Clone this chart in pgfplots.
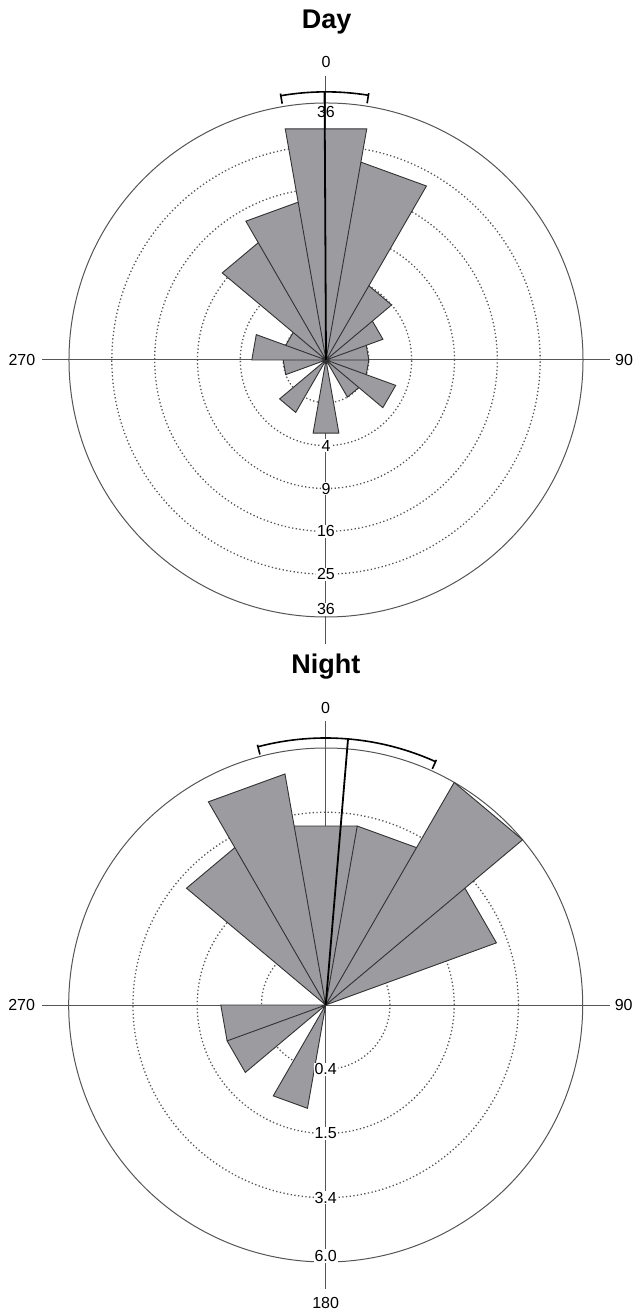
\documentclass[border=0pt]{standalone}
\usepackage{fontspec}
\setmainfont{Liberation Sans}
\usepackage{pgfplots}
\usepackage{pgfplotstable}
\pgfplotsset{compat=1.18}
\usepgfplotslibrary{polar}

\definecolor{petal}{RGB}{155,155,160}
\definecolor{petaledge}{RGB}{50,50,50}
\definecolor{frame}{RGB}{85,85,85}

% each petal is a triangle: centre, then its two corners
% az = bearing in degrees (clockwise from north), n = value of the 20 deg class
\pgfplotstableread{
az   n
0    0
-10  30
10   30
0    0
10   22
30   22
0    0
30   4
50   4
0    0
50   2
70   2
0    0
70   1
90   1
0    0
90   1
110  1
0    0
110  3
130  3
0    0
130  1
150  1
0    0
170  3
190  3
0    0
210  2
230  2
0    0
250  1
270  1
0    0
270  3
290  3
0    0
290  1
310  1
0    0
310  10
330  10
0    0
330  14
350  14
0    0
}\daypetals

\pgfplotstableread{
az   n
0    0
-10  3.0
10   3.0
0    0
10   3.0
30   3.0
0    0
30   6.0
50   6.0
0    0
50   3.0
70   3.0
0    0
190  1.0
210  1.0
0    0
230  1.0
250  1.0
0    0
250  1.0
270  1.0
0    0
310  3.0
330  3.0
0    0
330  5.0
350  5.0
0    0
}\nightpetals

\pgfplotsset{
  rose/.style={
    scale only axis, width=257pt, height=257pt,
    anchor=origin, clip=false,
    xtick=\empty, ytick style={draw=none},
    yticklabels={,,,,,}, yticklabel style={opacity=0},
    ymajorgrids,
    grid style={frame, line width=0.65pt, dash pattern=on 0.65pt off 1.2pt},
    axis line style={frame, line width=0.5pt},
    ymin=0,
  },
}
\tikzset{
  petals/.style={fill=petal, draw=petaledge, line width=0.45pt},
  ringlabel/.style={font=\fontsize{8}{9}\selectfont, fill=white, inner sep=0.5pt},
  anglelabel/.style={font=\fontsize{8}{9}\selectfont, inner sep=0pt},
  crossline/.style={frame, line width=0.5pt},
  meanline/.style={black, line width=0.9pt},
}

\begin{document}
\begin{tikzpicture}
\useasboundingbox (0,0) rectangle (317pt,656pt);

\node[font=\fontsize{13.5}{15}\selectfont\bfseries, anchor=base] at (163.3pt,641.8pt) {Day};
\node[font=\fontsize{13.5}{15}\selectfont\bfseries, anchor=base] at (162.9pt,319.4pt) {Night};

% ---------------- Day ----------------
\begin{polaraxis}[rose, at={(163pt,476pt)}, ymax=6, ytick={1,2,3,4,5}]
  \draw[crossline] (axis cs:0,6.63) -- (axis cs:180,6.63);
  \draw[crossline] (axis cs:90,6.63) -- (axis cs:270,6.63);
  \addplot[petals] table[x expr={90-\thisrow{az}}, y expr={sqrt(\thisrow{n})}] {\daypetals};
  % mean direction and its confidence arc
  \addplot[meanline] coordinates {(90.3,0) (90.3,6.26)};
  \draw[meanline, line width=0.8pt] (axis cs:99.7,6.26) arc[start angle=99.7, end angle=80.9, radius=134pt];
  \draw[meanline, line width=0.8pt] (axis cs:99.7,6.07) -- (axis cs:99.7,6.31);
  \draw[meanline, line width=0.8pt] (axis cs:80.9,6.07) -- (axis cs:80.9,6.31);
  \node[anglelabel] at (axis cs:90,6.95) {0};
  \node[anglelabel] at (axis cs:0,6.96) {90};
  \node[anglelabel] at (axis cs:180,7.10) {270};
  \node[ringlabel] at (axis cs:270,2) {4};
  \node[ringlabel] at (axis cs:270,3) {9};
  \node[ringlabel] at (axis cs:270,4) {16};
  \node[ringlabel] at (axis cs:270,5) {25};
  \node[ringlabel] at (axis cs:270,5.82) {36};
  \node[ringlabel, fill=none] at (axis cs:90,5.80) {36};
\end{polaraxis}

% ---------------- Night ----------------
\begin{polaraxis}[rose, at={(162.85pt,153.5pt)}, ymax=2.4495, ytick={0.6124,1.2247,1.8371}]
  \draw[crossline] (axis cs:0,2.707) -- (axis cs:180,2.707);
  \draw[crossline] (axis cs:90,2.707) -- (axis cs:270,2.707);
  \addplot[petals] table[x expr={90-\thisrow{az}}, y expr={sqrt(\thisrow{n})}] {\nightpetals};
  \addplot[meanline] coordinates {(85.2,0) (85.2,2.545)};
  \draw[meanline, line width=0.8pt] (axis cs:104.7,2.545) arc[start angle=104.7, end angle=65.7, radius=133.5pt];
  \draw[meanline, line width=0.8pt] (axis cs:104.7,2.469) -- (axis cs:104.7,2.564);
  \draw[meanline, line width=0.8pt] (axis cs:65.7,2.469) -- (axis cs:65.7,2.564);
  \node[anglelabel] at (axis cs:90,2.831) {0};
  \node[anglelabel] at (axis cs:0,2.84) {90};
  \node[anglelabel] at (axis cs:180,2.898) {270};
  \node[anglelabel] at (axis cs:270,2.84) {180};
  \node[ringlabel] at (axis cs:270,0.6124) {0.4};
  \node[ringlabel] at (axis cs:270,1.2247) {1.5};
  \node[ringlabel] at (axis cs:270,1.8371) {3.4};
  \node[ringlabel] at (axis cs:270,2.393) {6.0};
\end{polaraxis}
\end{tikzpicture}
\end{document}
